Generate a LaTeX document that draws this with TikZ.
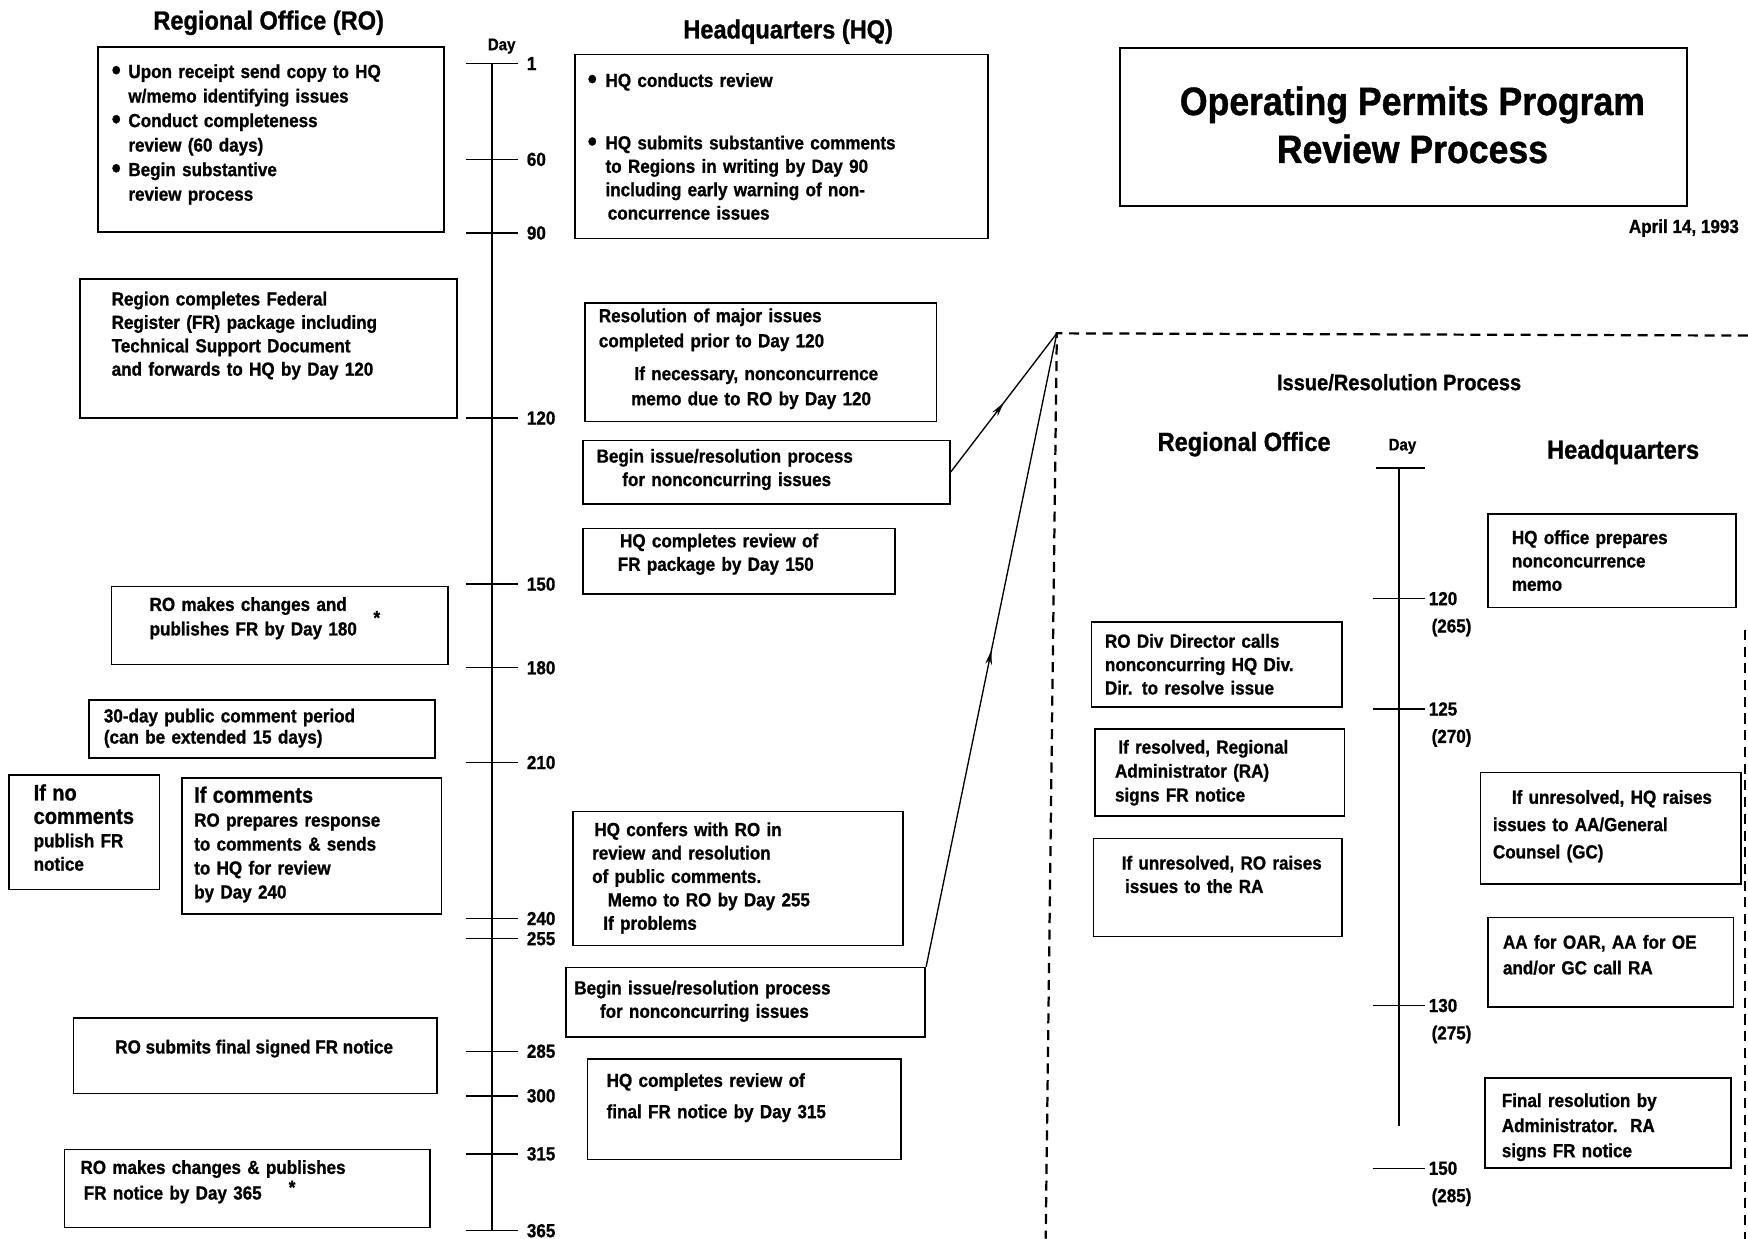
\documentclass[tikz,border=0pt]{standalone}
\usepackage{fontspec}
\setmainfont{Liberation Sans}[FakeStretch=0.9, FakeBold=1]
\usetikzlibrary{arrows.meta,decorations.markings}

\tikzset{
  box/.style={draw, line width=1.5pt, inner sep=0pt},
  txt/.style={anchor=base west, inner sep=0pt, text width=300pt, align=left,
    font=\fontsize{17}{#1}\selectfont\bfseries},
  txt/.default=22,
  head/.style={anchor=base, inner sep=0pt, font=\fontsize{23.5}{28}\selectfont\bfseries},
  daytitle/.style={anchor=base, inner sep=0pt, font=\fontsize{15}{18}\selectfont\bfseries},
  tick/.style={line width=1.3pt},
  daylbl/.style={anchor=west, inner sep=0pt, font=\fontsize{17}{20}\selectfont\bfseries},
  midarrow/.style={decoration={markings,
      mark=at position 0.5 with {\arrow{Stealth[length=13pt,width=6pt]}}},
    postaction={decorate}},
}
\newcommand{\bigdot}{\raisebox{-1.5pt}{\fontsize{26}{22}\selectfont\textbullet}}
\newcommand{\bulpt}{\makebox[15pt][l]{\bigdot}}
\newcommand{\bulin}{\hspace*{15pt}}
\newcommand{\bigln}[1]{{\fontsize{20}{22}\selectfont #1}}

\begin{document}
\begin{tikzpicture}[x=1pt, y=-1pt]
    \useasboundingbox (0,0) rectangle (1568,1111);

    % title block
    \node[box, line width=1.8pt, minimum width=508, minimum height=142] (title) at (1259,114) {};
    \node[inner sep=0pt, align=center, font=\fontsize{35.5}{43}\selectfont\bfseries] (titlet) at (1267,112) {Operating Permits Program\\Review Process};
    \node[anchor=base east, inner sep=0pt, font=\fontsize{17}{20}\selectfont\bfseries] (date) at (1560,209) {April 14, 1993};

    % column heads
    \node[head] (rohead) at (241,26.5) {Regional Office (RO)};
    \node[head] (hqhead) at (707,34.5) {Headquarters (HQ)};
    \node[daytitle] (day) at (450,45) {Day};

    % main time line
    \draw[line width=1.6pt] (441,57) -- (441,1104);
    \foreach \d/\y in {1/57,60/143,90/209,120/375,150/524,180/599,210/684,240/824,255/842,285/943,300/983,315/1035,365/1104}
        \draw[tick] (418,\y) -- (465,\y) node[daylbl, xshift=7pt] (d\d) {\d};

    % regional office boxes
    \node[box, minimum width=310, minimum height=166] (ro1) at (243,125) {};
    \node[txt] (ro1t) at (100,70) {\bulpt Upon receipt send copy to HQ\\\bulin w/memo identifying issues\\\bulpt Conduct completeness\\\bulin review (60 days)\\\bulpt Begin substantive\\\bulin review process};

    \node[box, minimum width=338, minimum height=125] (ro2) at (241,312.5) {};
    \node[txt=21] (ro2t) at (100,274) {Region completes Federal\\Register (FR) package including\\Technical Support Document\\and forwards to HQ by Day 120};

    \node[box, minimum width=302, minimum height=70] (ro3) at (251,561) {};
    \node[txt] (ro3t) at (134,548) {RO makes changes and\\publishes FR by Day 180};
    \node[inner sep=0pt, font=\fontsize{17}{20}\selectfont\bfseries] (star1) at (338,554) {*};

    \node[box, minimum width=310, minimum height=52] (ro4) at (235,654) {};
    \node[txt=19] (ro4t) at (93,648) {30-day public comment period\\(can be extended 15 days)};

    \node[box, minimum width=135, minimum height=103] (ro5) at (75.5,746.5) {};
    \node[txt=21] (ro5t) at (30,718) {\bigln{If no}\\\bigln{comments}\\publish FR\\notice};

    \node[box, minimum width=233, minimum height=122] (ro6) at (279.5,759) {};
    \node[txt=21.5] (ro6t) at (174,720) {\bigln{If comments}\\RO prepares response\\to comments \& sends\\to HQ for review\\by Day 240};

    \node[box, minimum width=326, minimum height=68] (ro7) at (229,947) {};
    \node[anchor=base, inner sep=0pt, font=\fontsize{17}{22}\selectfont\bfseries] (ro7t) at (228,945) {RO submits final signed FR notice};

    \node[box, minimum width=328, minimum height=70] (ro8) at (222,1066) {};
    \node[txt=23] (ro8t) at (72,1053) {RO makes changes \& publishes\\\hspace*{3pt}FR notice by Day 365};
    \node[inner sep=0pt, font=\fontsize{17}{20}\selectfont\bfseries] (star2) at (262,1065) {*};

    % headquarters boxes
    \node[box, minimum width=370, minimum height=165] (hq1) at (701,131.5) {};
    \node[txt=21] (hq1t) at (527,78) {\makebox[16pt][l]{\bigdot}HQ conducts review\\[35pt]\makebox[16pt][l]{\bigdot}HQ submits substantive comments\\\hspace*{16pt}to Regions in writing by Day 90\\\hspace*{16pt}including early warning of non-\\\hspace*{18pt}concurrence issues};

    \node[box, minimum width=315, minimum height=106] (hq2) at (682.5,325) {};
    \node[txt=22.5] (hq2t) at (537,289) {Resolution of major issues\\completed prior to Day 120\\[7pt]\hspace*{32pt}If necessary, nonconcurrence\\\hspace*{29pt}memo due to RO by Day 120};

    \node[box, minimum width=329, minimum height=57] (hq3) at (687.5,423.5) {};
    \node[txt=21] (hq3t) at (535,415) {Begin issue/resolution process\\\hspace*{23pt}for nonconcurring issues};

    \node[box, minimum width=280, minimum height=59] (hq4) at (663,503.5) {};
    \node[txt=21] (hq4t) at (554,491) {\hspace*{2pt}HQ completes review of\\FR package by Day 150};

    \node[box, minimum width=296, minimum height=120] (hq5) at (662,788) {};
    \node[txt=21] (hq5t) at (531,750) {\hspace*{2pt}HQ confers with RO in\\review and resolution\\of public comments.\\\hspace*{14pt}Memo to RO by Day 255\\\hspace*{10pt}If problems};

    \node[box, minimum width=322, minimum height=62] (hq6) at (669,899) {};
    \node[txt=21] (hq6t) at (515,892) {Begin issue/resolution process\\\hspace*{23pt}for nonconcurring issues};

    \node[box, minimum width=281, minimum height=90] (hq7) at (667.5,995) {};
    \node[txt=28] (hq7t) at (544,975) {HQ completes review of\\final FR notice by Day 315};

    % issue/resolution inset
    \coordinate (irc) at (948,299);
    \draw[line width=2pt, dash pattern=on 9pt off 6pt] (1568,301) -- (irc) -- (938,1111);
    \draw[line width=2pt, dash pattern=on 9pt off 6pt] (1565,565) -- (1565,1111);

    \draw[line width=1.2pt, midarrow] (hq3.east) -- (irc);
    \draw[line width=1.2pt, midarrow] (hq6.north east) -- (irc);

    \node[anchor=base, inner sep=0pt, font=\fontsize{20}{24}\selectfont\bfseries] (irhead) at (1255,350) {Issue/Resolution Process};
    \node[head] (irro) at (1116,404.5) {Regional Office};
    \node[head] (irhq) at (1456,411.5) {Headquarters};
    \node[daytitle] (irday) at (1258,404) {Day};

    \draw[line width=1.6pt] (1255,420) -- (1255,1010);
    \draw[tick] (1234,420) -- (1278,420);
    \foreach \d/\p/\y in {120/265/537,125/270/636,130/275/902,150/285/1048} {
        \draw[tick] (1232,\y) -- (1278,\y) node[daylbl, xshift=3pt] (i\d) {\d};
        \node[daylbl] (ip\d) at (1284,\y+26) {(\p)};
    }

    \node[box, minimum width=225, minimum height=76] (ir1) at (1091.5,596) {};
    \node[txt=21] (ir1t) at (991,581) {RO Div Director calls\\nonconcurring HQ Div.\\Dir. to resolve issue};

    \node[box, minimum width=224, minimum height=78] (ir2) at (1094,693) {};
    \node[txt=21.5] (ir2t) at (1000,676) {\hspace*{3pt}If resolved, Regional\\Administrator (RA)\\signs FR notice};

    \node[box, minimum width=223, minimum height=88] (ir3) at (1092.5,796) {};
    \node[txt=21] (ir3t) at (1006,780) {If unresolved, RO raises\\\hspace*{3pt}issues to the RA};

    \node[box, minimum width=222, minimum height=84] (ih1) at (1446,503) {};
    \node[txt=21] (ih1t) at (1356,488) {HQ office prepares\\nonconcurrence\\memo};

    \node[box, minimum width=234, minimum height=100] (ih2) at (1445,743) {};
    \node[txt=24.5] (ih2t) at (1339,721) {\hspace*{17pt}If unresolved, HQ raises\\issues to AA/General\\Counsel (GC)};

    \node[box, minimum width=220, minimum height=80] (ih3) at (1445,863) {};
    \node[txt=23] (ih3t) at (1348,851) {AA for OAR, AA for OE\\and/or GC call RA};

    \node[box, minimum width=221, minimum height=81] (ih4) at (1442.5,1007.5) {};
    \node[txt=22.5] (ih4t) at (1347,993) {Final resolution by\\Administrator.~~RA\\signs FR notice};

\end{tikzpicture}
\end{document}
